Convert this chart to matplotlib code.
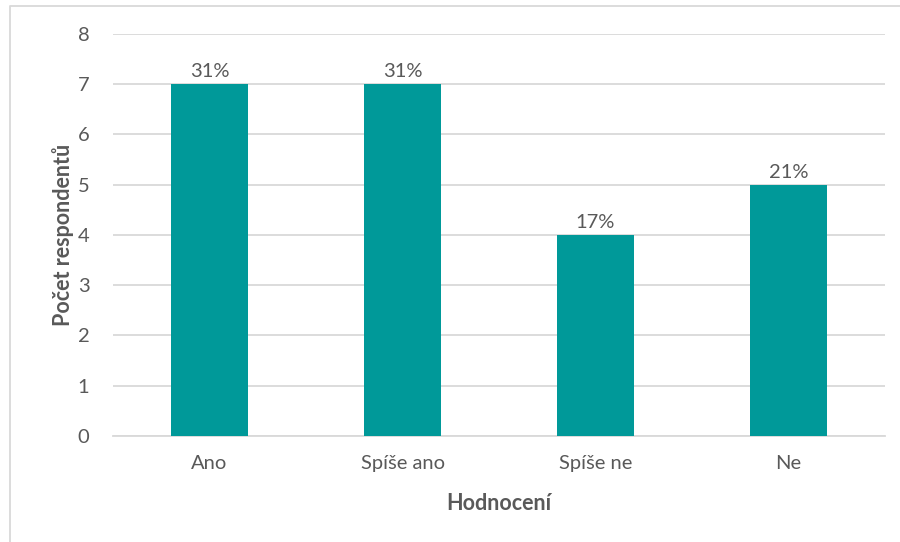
import matplotlib.pyplot as plt
from matplotlib.lines import Line2D

plt.rcParams['font.family'] = ['Lato', 'DejaVu Sans']

# Survey answers
categories = ['Ano', 'Spíše ano', 'Spíše ne', 'Ne']
counts = [7, 7, 4, 5]
shares = ['31%', '31%', '17%', '21%']

text_col = '#595959'
grid_col = '#d9d9d9'
bar_col = '#009999'

fig = plt.figure(figsize=(9, 5.42), dpi=100)
ax = fig.add_axes([0.1256, 0.1956, 0.8577, 0.7417])

x = range(len(categories))
bars = ax.bar(x, counts, width=0.395, color=bar_col, zorder=3)
for b, lab in zip(bars, shares):
    ax.text(b.get_x() + b.get_width() / 2, b.get_height() + 0.08, lab,
            ha='center', va='bottom', fontsize=14.5, color=text_col)

ax.set_xlim(-0.5, len(categories) - 0.5)
ax.set_ylim(0, 8)
ax.set_yticks(range(0, 9))
ax.set_xticks(list(x))
ax.set_xticklabels(categories)
ax.yaxis.grid(True, color=grid_col, linewidth=1.3, zorder=0)
ax.tick_params(axis='both', length=0, labelsize=14.5, labelcolor=text_col)
ax.tick_params(axis='y', pad=17)
ax.tick_params(axis='x', pad=14)
for s in ['top', 'right', 'left']:
    ax.spines[s].set_visible(False)
ax.spines['bottom'].set_color(grid_col)
ax.spines['bottom'].set_linewidth(1.3)

ax.set_xlabel('Hodnocení', fontsize=15.5, fontweight='bold', color=text_col,
              labelpad=15)
ax.set_ylabel('Počet respondentů', fontsize=15.5, fontweight='bold',
              color=text_col, labelpad=3)

# chart frame (top and left edges)
fig.add_artist(Line2D([0.011, 0.011, 1.0], [0.0, 0.989, 0.989],
                      transform=fig.transFigure, color=grid_col, linewidth=1.3))

plt.savefig('out.png', dpi=100)
